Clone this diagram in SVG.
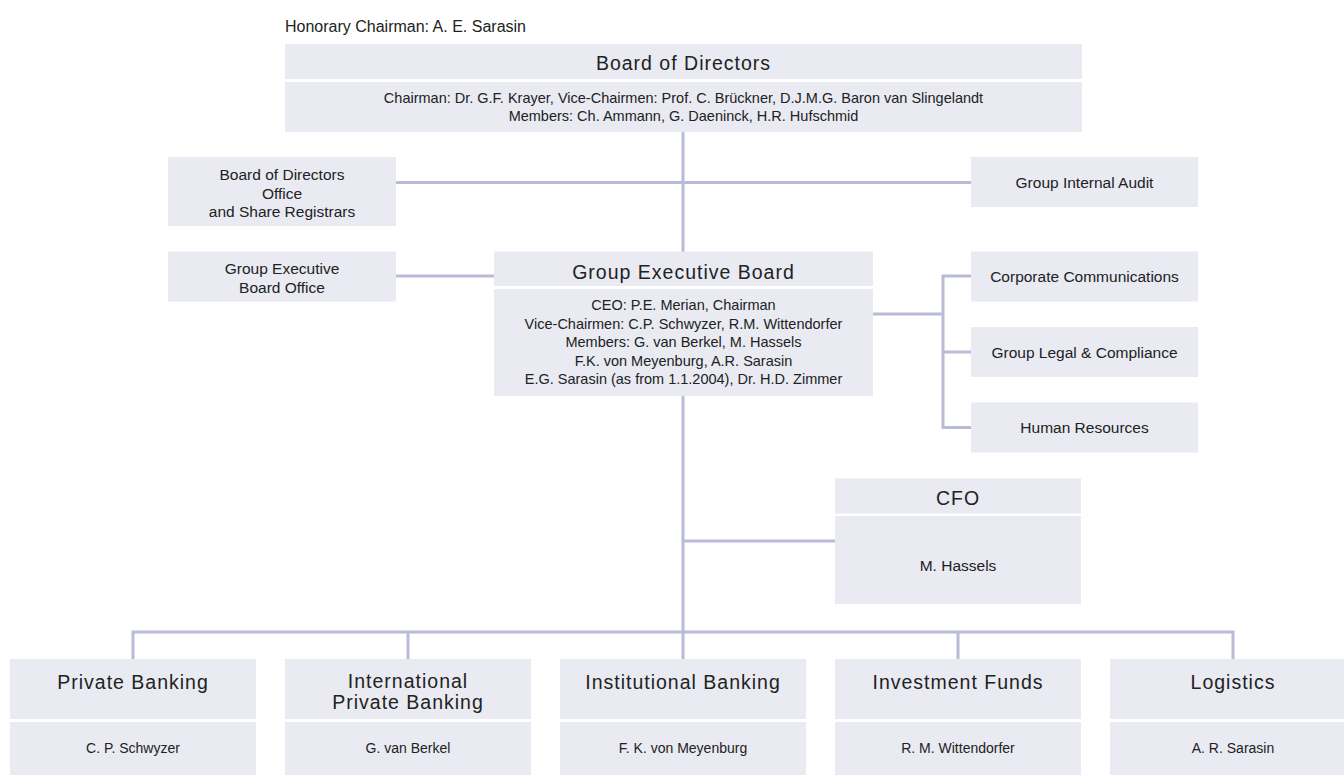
<svg xmlns="http://www.w3.org/2000/svg" width="1344" height="775" viewBox="0 0 1344 775">
<style>
.box{fill:#e9eaf2}
.ln{stroke:#b9bcd8;stroke-width:3;fill:none;stroke-linecap:butt}
text{font-family:"Liberation Sans",Arial,sans-serif;fill:#222;text-anchor:middle}
.t{font-size:19.5px;letter-spacing:1px}
.s{font-size:15.5px}
.b{font-size:14.5px}
.n{font-size:14px}
</style>
<rect width="1344" height="775" fill="#fff"/>
<g id="connectors">
<path class="ln" d="M683 132V252"/>
<path class="ln" d="M396 182.5H971"/>
<path class="ln" d="M396 276H494"/>
<path class="ln" d="M873 314H943"/>
<path class="ln" d="M971 276H943V427.5H971"/>
<path class="ln" d="M943 352H971"/>
<path class="ln" d="M683 396V632"/>
<path class="ln" d="M683 541H835"/>
<path class="ln" d="M133 659V632H1233V659"/>
<path class="ln" d="M408 632V659"/>
<path class="ln" d="M683 632V659"/>
<path class="ln" d="M958 632V659"/>
</g>
<g id="honorary">
<text x="285" y="32" style="font-size:16px;text-anchor:start">Honorary Chairman: A. E. Sarasin</text>
</g>
<g id="board-of-directors">
<rect class="box" x="285" y="44" width="797" height="35"/>
<rect class="box" x="285" y="82" width="797" height="50"/>
<text class="t" x="683.5" y="70">Board of Directors</text>
<text class="b" x="683.5" y="103">Chairman: Dr. G.F. Krayer, Vice-Chairmen: Prof. C. Brückner, D.J.M.G. Baron van Slingelandt</text>
<text class="b" x="683.5" y="121">Members: Ch. Ammann, G. Daeninck, H.R. Hufschmid</text>
</g>
<g id="bod-office">
<rect class="box" x="168" y="157" width="228" height="69"/>
<text class="s" x="282" y="180">Board of Directors</text>
<text class="s" x="282" y="198.5">Office</text>
<text class="s" x="282" y="217">and Share Registrars</text>
</g>
<g id="internal-audit">
<rect class="box" x="971" y="157" width="227" height="50"/>
<text class="s" x="1084.5" y="188">Group Internal Audit</text>
</g>
<g id="geb-office">
<rect class="box" x="168" y="251.5" width="228" height="50"/>
<text class="s" x="282" y="274">Group Executive</text>
<text class="s" x="282" y="292.5">Board Office</text>
</g>
<g id="group-executive-board">
<rect class="box" x="494" y="251.5" width="379" height="34.5"/>
<rect class="box" x="494" y="289" width="379" height="107"/>
<text class="t" x="683.5" y="279">Group Executive Board</text>
<text class="b" x="683.5" y="310">CEO: P.E. Merian, Chairman</text>
<text class="b" x="683.5" y="328.6">Vice-Chairmen: C.P. Schwyzer, R.M. Wittendorfer</text>
<text class="b" x="683.5" y="347.2">Members: G. van Berkel, M. Hassels</text>
<text class="b" x="683.5" y="365.8">F.K. von Meyenburg, A.R. Sarasin</text>
<text class="b" x="683.5" y="384.4">E.G. Sarasin (as from 1.1.2004), Dr. H.D. Zimmer</text>
</g>
<g id="corporate-communications">
<rect class="box" x="971" y="251.5" width="227" height="50"/>
<text class="s" x="1084.5" y="282">Corporate Communications</text>
</g>
<g id="legal-compliance">
<rect class="box" x="971" y="327" width="227" height="50"/>
<text class="s" x="1084.5" y="357.5">Group Legal &amp; Compliance</text>
</g>
<g id="human-resources">
<rect class="box" x="971" y="402.5" width="227" height="50"/>
<text class="s" x="1084.5" y="433">Human Resources</text>
</g>
<g id="cfo">
<rect class="box" x="835" y="478.5" width="246" height="35"/>
<rect class="box" x="835" y="516" width="246" height="88"/>
<text class="t" x="958" y="504.5">CFO</text>
<text class="s" x="958" y="571">M. Hassels</text>
</g>
<g id="private-banking">
<rect class="box" x="10" y="659" width="246" height="60"/>
<rect class="box" x="10" y="722" width="246" height="56"/>
<text class="t" x="133" y="689">Private Banking</text>
<text class="n" x="133" y="753">C. P. Schwyzer</text>
</g>
<g id="international-private-banking">
<rect class="box" x="285" y="659" width="246" height="60"/>
<rect class="box" x="285" y="722" width="246" height="56"/>
<text class="t" x="408" y="687.5">International</text>
<text class="t" x="408" y="709">Private Banking</text>
<text class="n" x="408" y="753">G. van Berkel</text>
</g>
<g id="institutional-banking">
<rect class="box" x="560" y="659" width="246" height="60"/>
<rect class="box" x="560" y="722" width="246" height="56"/>
<text class="t" x="683" y="689">Institutional Banking</text>
<text class="n" x="683" y="753">F. K. von Meyenburg</text>
</g>
<g id="investment-funds">
<rect class="box" x="835" y="659" width="246" height="60"/>
<rect class="box" x="835" y="722" width="246" height="56"/>
<text class="t" x="958" y="689">Investment Funds</text>
<text class="n" x="958" y="753">R. M. Wittendorfer</text>
</g>
<g id="logistics">
<rect class="box" x="1110" y="659" width="246" height="60"/>
<rect class="box" x="1110" y="722" width="246" height="56"/>
<text class="t" x="1233" y="689">Logistics</text>
<text class="n" x="1233" y="753">A. R. Sarasin</text>
</g>
</svg>
